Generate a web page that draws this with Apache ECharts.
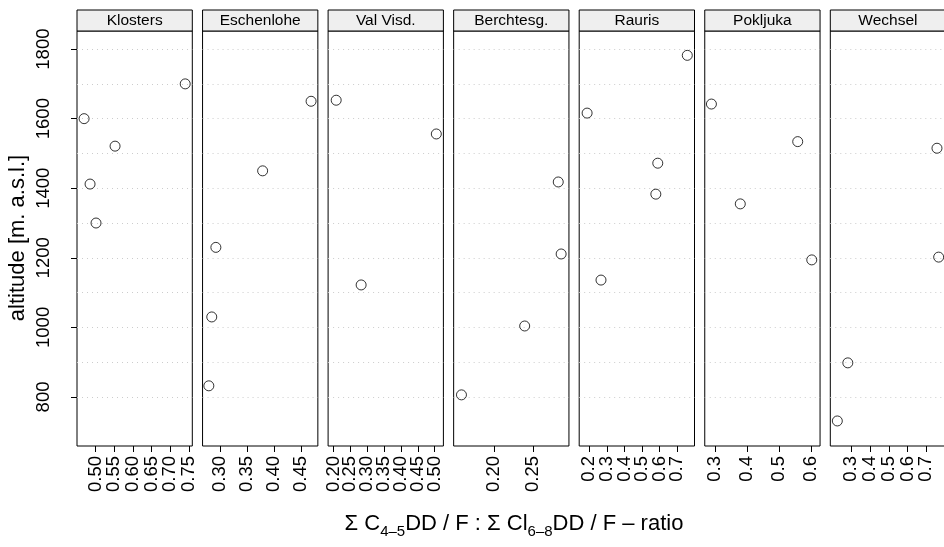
<!DOCTYPE html>
<html>
<head>
<meta charset="utf-8">
<script src="https://cdn.jsdelivr.net/npm/echarts@6/dist/echarts.min.js"></script>
<style>html,body{margin:0;padding:0;background:#fff;}#chart{width:944px;height:547px;}</style>
</head>
<body>
<div id="chart"></div>
<script>
// ---- data ----
const panels = ['Klosters', 'Eschenlohe', 'Val Visd.', 'Berchtesg.', 'Rauris', 'Pokljuka', 'Wechsel'];
const xMin = [0.450, 0.268, 0.184, 0.148, 0.142, 0.2676, 0.1875];
const xMax = [0.759, 0.481, 0.526, 0.2957, 0.798, 0.629, 0.803];
const xTicks = [
  [0.50, 0.55, 0.60, 0.65, 0.70, 0.75],
  [0.30, 0.35, 0.40, 0.45],
  [0.20, 0.25, 0.30, 0.35, 0.40, 0.45, 0.50],
  [0.20, 0.25],
  [0.2, 0.3, 0.4, 0.5, 0.6, 0.7],
  [0.3, 0.4, 0.5, 0.6],
  [0.3, 0.4, 0.5, 0.6, 0.7]
];
const xDecimals = [2, 2, 2, 2, 1, 1, 1];
const ratioKlosters = [0.740, 0.469, 0.552, 0.485, 0.501];
const altKlosters = [1700, 1600, 1521, 1412, 1300];
const ratioEschenlohe = [0.4685, 0.379, 0.2926, 0.285, 0.2796];
const altEschenlohe = [1650, 1450, 1230, 1030, 832];
const ratioValVisd = [0.208, 0.505, 0.282];
const altValVisd = [1653, 1556, 1122];
const ratioBerchtesg = [0.282, 0.2857, 0.239, 0.158];
const altBerchtesg = [1418, 1211, 1004, 806];
const ratioRauris = [0.757, 0.187, 0.589, 0.578, 0.266];
const altRauris = [1782, 1616, 1472, 1383, 1136];
const ratioPokljuka = [0.2885, 0.559, 0.379, 0.603];
const altPokljuka = [1642, 1534, 1355, 1194];
const ratioWechsel = [0.757, 0.766, 0.281, 0.225];
const altWechsel = [1515, 1202, 898, 731];
const yMin = 659, yMax = 1852;
const yTicks = [800, 1000, 1200, 1400, 1600, 1800];
const yGrid = [800, 900, 1000, 1100, 1200, 1300, 1400, 1500, 1600, 1700, 1800];

const ratios = [ratioKlosters, ratioEschenlohe, ratioValVisd, ratioBerchtesg, ratioRauris, ratioPokljuka, ratioWechsel];
const alts = [altKlosters, altEschenlohe, altValVisd, altBerchtesg, altRauris, altPokljuka, altWechsel];

// ---- layout ----
const FONT = 'Liberation Sans, Arial, Helvetica, sans-serif';
const L0 = 77, STEP = 125.55, PW = 115.3, TOP = 31, PH = 415, STRIP_TOP = 10, STRIP_H = 21;

const grid = [], xAxis = [], yAxis = [], series = [], graphic = [];
function makeXAxis(i, ticks) {
  return {
    type: 'value', gridIndex: i, min: xMin[i], max: xMax[i], position: 'bottom', offset: 0,
    axisLine: {show: false}, splitLine: {show: false},
    axisTick: {show: true, length: 6, inside: false, customValues: ticks, lineStyle: {color: '#000', width: 1}},
    axisLabel: {show: true, rotate: 90, margin: 10, customValues: ticks, color: '#000', fontFamily: FONT, fontSize: 18.5,
      formatter: (v) => Number(v).toFixed(xDecimals[i])}
  };
}
panels.forEach((name, i) => {
  const left = L0 + i * STEP;
  grid.push({left: left, top: TOP, width: PW, height: PH, show: true, borderColor: '#000', borderWidth: 1,
    backgroundColor: 'transparent', outerBoundsMode: 'none', containLabel: false});
  // alternate ticks go on two coincident axes so crowded labels are all kept
  const xa = xAxis.length;
  xAxis.push(makeXAxis(i, xTicks[i].filter((_, k) => k % 2 === 0)));
  xAxis.push(makeXAxis(i, xTicks[i].filter((_, k) => k % 2 === 1)));
  yAxis.push({
    type: 'value', gridIndex: i, min: yMin, max: yMax,
    axisLine: {show: false}, splitLine: {show: false},
    axisTick: {show: i === 0, length: 6, customValues: yTicks, lineStyle: {color: '#000'}},
    axisLabel: {show: i === 0, rotate: 90, margin: 24, customValues: yTicks, color: '#000', fontFamily: FONT, fontSize: 18.5,
      formatter: (v) => String(Math.round(v))}
  });
  series.push({
    type: 'scatter', xAxisIndex: xa, yAxisIndex: i,
    data: ratios[i].map((r, k) => [r, alts[i][k]]),
    symbol: 'circle', symbolSize: 10,
    itemStyle: {color: 'rgba(0,0,0,0)', borderColor: '#000', borderWidth: 1},
    silent: true, z: 5,
    markLine: {
      silent: true, symbol: 'none', label: {show: false}, animation: false,
      lineStyle: {color: '#cccccc', type: [1, 4], width: 1},
      data: yGrid.map(v => ({yAxis: v}))
    }
  });
  graphic.push({
    type: 'rect', shape: {x: left, y: STRIP_TOP, width: PW, height: STRIP_H},
    style: {fill: '#efefef', stroke: '#000', lineWidth: 1}, z: 10
  });
  graphic.push({
    type: 'text', x: left + PW / 2, y: STRIP_TOP + STRIP_H / 2 + 0.5, z: 11,
    style: {text: name, fill: '#000', font: '15.5px ' + FONT, align: 'center', verticalAlign: 'middle'}
  });
});

graphic.push({
  type: 'text', x: 18, y: 238, rotation: Math.PI / 2, z: 11,
  style: {text: 'altitude [m. a.s.l.]', fill: '#000', font: '22px ' + FONT, align: 'center', verticalAlign: 'middle'}
});

graphic.push({
  type: 'text', x: 514, y: 524, z: 11,
  style: {
    text: '{m|Σ C}{s|4–5}{m|DD / F : Σ Cl}{s|6–8}{m|DD / F – ratio}',
    align: 'center', verticalAlign: 'middle', fill: '#000',
    rich: {
      m: {fontSize: 22, fontFamily: FONT, fill: '#000', lineHeight: 30, verticalAlign: 'middle'},
      s: {fontSize: 15, fontFamily: FONT, fill: '#000', lineHeight: 30, verticalAlign: 'bottom'}
    }
  }
});

const chart = echarts.init(document.getElementById('chart'), null, {renderer: 'canvas'});
chart.setOption({animation: false, backgroundColor: '#fff', grid, xAxis, yAxis, series, graphic});
</script>
</body>
</html>
